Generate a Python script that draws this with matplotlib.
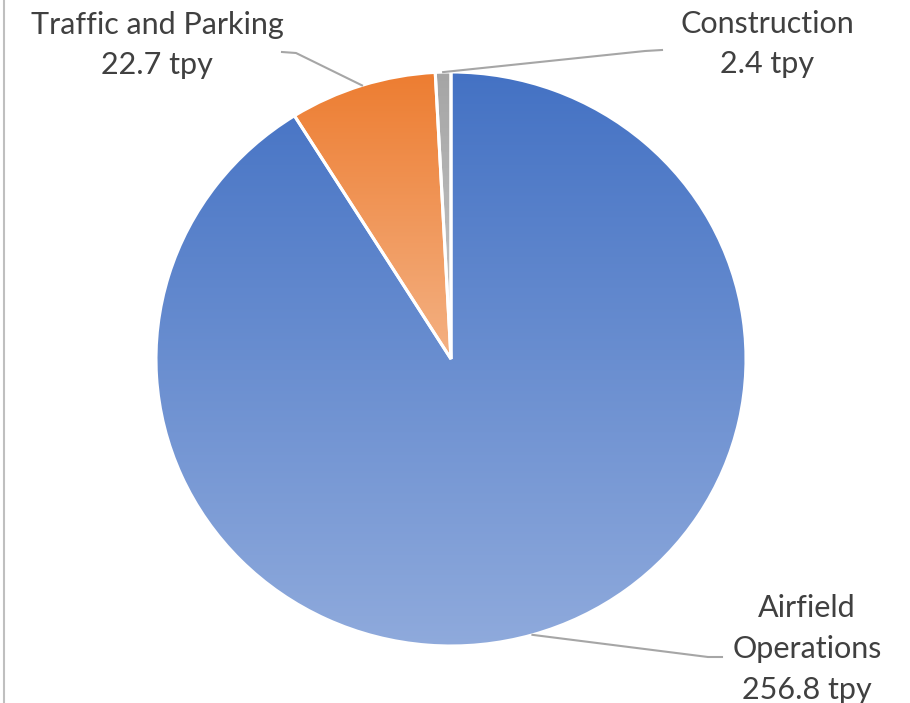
import numpy as np
import matplotlib
matplotlib.use("Agg")
import matplotlib.pyplot as plt
from matplotlib.colors import LinearSegmentedColormap
from matplotlib.lines import Line2D

# ---- data ----
categories = ["Airfield\nOperations", "Traffic and Parking", "Construction"]
values = [256.8, 22.7, 2.4]
unit = "tpy"
top_colors = ["#4472C4", "#ED7D31", "#A5A5A5"]
bottom_colors = ["#8FAADC", "#F4B183", "#C9C9C9"]

W, H = 910, 703
fig = plt.figure(figsize=(W / 100, H / 100), dpi=100)
fig.patch.set_facecolor("white")

def fx(x):
    return x / W

def fy(y):
    return 1 - y / H

# pie bounding box in pixels
left, right, top, bottom = 156, 746, 72, 646
ax = fig.add_axes([fx(left), fy(bottom), (right - left) / W, (bottom - top) / H])
ax.axis("off")

wedges, _ = ax.pie(values, startangle=90, counterclock=False, radius=1,
                   colors=top_colors,
                   wedgeprops=dict(edgecolor="white", linewidth=2.2))
ax.set_xlim(-1, 1)
ax.set_ylim(-1, 1)
ax.set_aspect("auto")

for w, c0, c1 in zip(wedges, top_colors, bottom_colors):
    verts = w.get_path().vertices
    trans = w.get_patch_transform()
    pts = trans.transform(verts)
    ymin, ymax = pts[:, 1].min(), pts[:, 1].max()
    xmin, xmax = pts[:, 0].min(), pts[:, 0].max()
    cmap = LinearSegmentedColormap.from_list("g", [c1, c0])
    grad = np.linspace(0, 1, 256).reshape(-1, 1)
    im = ax.imshow(grad, cmap=cmap, origin="lower", aspect="auto",
                   extent=[xmin, xmax, ymin, ymax], zorder=1.5,
                   interpolation="bilinear")
    im.set_clip_path(w)
    w.set_facecolor("none")
    w.set_zorder(3)

ax.set_xlim(-1, 1)
ax.set_ylim(-1, 1)

# anchor points at wedge mid-angles
total = sum(values)
theta = 90.0
anchors = []
for v in values:
    span = 360.0 * v / total
    mid = theta - span / 2
    theta -= span
    anchors.append((np.cos(np.radians(mid)), np.sin(np.radians(mid))))

fig.canvas.draw()
inv = fig.transFigure.inverted()

def data_to_fig(p):
    return inv.transform(ax.transData.transform(p))

line_color = "#A6A6A6"
text_color = "#404040"
fs = 22
font = "Lato"

# label layout (pixels): text center, elbow, end
layout = [
    dict(text=(807, 649), elbow=(708, 657), end=(722, 657)),
    dict(text=(157, 45), elbow=(296, 53), end=(282, 52)),
    dict(text=(767, 44), elbow=(645, 51), end=(662, 50)),
]

for cat, v, a, lay in zip(categories, values, anchors, layout):
    p0 = data_to_fig(a)
    xs = [p0[0], fx(lay["elbow"][0]), fx(lay["end"][0])]
    ys = [p0[1], fy(lay["elbow"][1]), fy(lay["end"][1])]
    fig.add_artist(Line2D(xs, ys, color=line_color, lw=1.5,
                          transform=fig.transFigure, zorder=4))
    fig.text(fx(lay["text"][0]), fy(lay["text"][1]), f"{cat}\n{v} {unit}",
             ha="center", va="center", fontsize=fs, color=text_color,
             family=font, linespacing=1.55)

# left border line
fig.add_artist(Line2D([fx(4), fx(4)], [0, 1], color="#BFBFBF", lw=1.5,
                      transform=fig.transFigure))

fig.savefig("out.png", dpi=100)
